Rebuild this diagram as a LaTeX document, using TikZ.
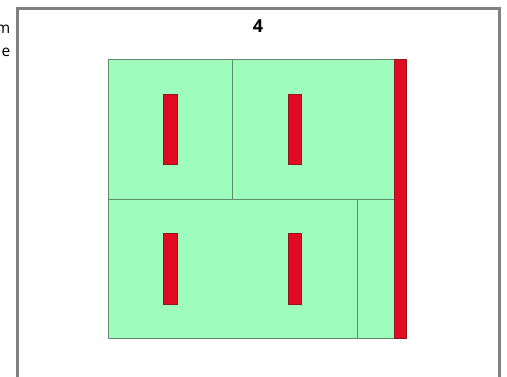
\documentclass[tikz,border=0pt]{standalone}
\usepackage{fontspec}
\setmainfont{Open Sans}
\definecolor{framegray}{RGB}{128,128,128}
\definecolor{boxgreen}{RGB}{158,252,188}
\definecolor{boxline}{RGB}{95,140,105}
\definecolor{barred}{RGB}{224,10,34}
\definecolor{barline}{RGB}{150,20,30}
\tikzset{
  frameline/.style={draw=framegray,line width=3pt},
  roombox/.style={fill=boxgreen,draw=boxline,line width=0.9pt},
  redbar/.style={fill=barred,draw=barline,line width=0.5pt},
  lbl/.style={inner sep=0pt,font=\fontsize{15.5}{17}\selectfont},
  ttl/.style={inner sep=0pt,font=\bfseries\fontsize{18}{20}\selectfont}
}
\begin{document}
\begin{tikzpicture}[x=1pt,y=-1pt]
\useasboundingbox (0,0) rectangle (507,376);
\fill[white] (0,0) rectangle (507,376);
% frame
\draw[frameline] (17,390) -- (17,8.5) -- (499.5,8.5) -- (499.5,390);
% cut-off texts
\node[lbl,anchor=base east] (tm) at (10.5,33.5) {m};
\node[lbl,anchor=base east] (te) at (10.5,56) {e};
% title
\node[ttl] (title) at (258,26) {4};
% rooms
\draw[roombox] (108,59.5) rectangle (232.7,199);
\draw[roombox] (232.7,59.5) rectangle (394,199);
\draw[roombox] (108,199) rectangle (357,338.7);
\draw[roombox] (357,199) rectangle (394,338.7);
% right bar
\draw[redbar] (394,59.5) rectangle (406.5,338.7);
% small bars
\draw[redbar] (163.7,94) rectangle (177,164.3);
\draw[redbar] (288,94) rectangle (301.3,164.3);
\draw[redbar] (163.7,233.7) rectangle (177,304);
\draw[redbar] (288,233.7) rectangle (301.3,304);
\end{tikzpicture}
\end{document}
